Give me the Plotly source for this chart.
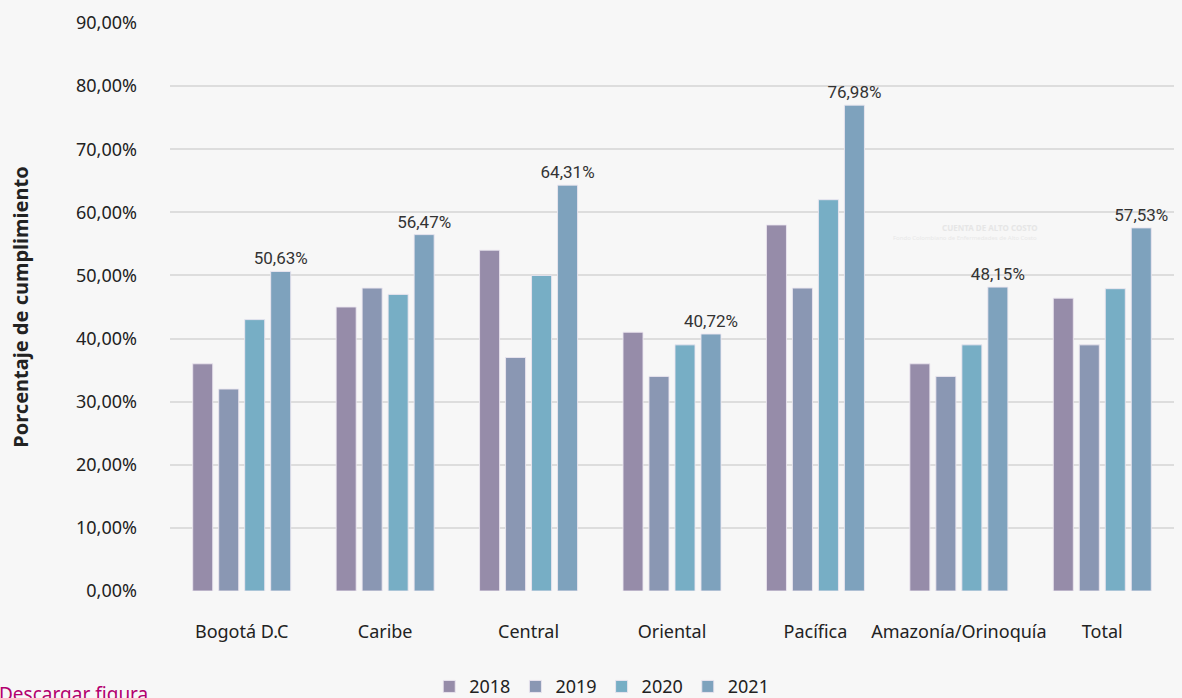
import plotly.graph_objects as go

categories = ["Bogotá D.C", "Caribe", "Central", "Oriental", "Pacífica", "Amazonía/Orinoquía", "Total"]
v2018 = [36.0, 45.0, 54.0, 41.0, 58.0, 36.0, 46.4]
v2019 = [32.0, 48.0, 37.0, 34.0, 48.0, 34.0, 39.0]
v2020 = [43.0, 47.0, 50.0, 39.0, 62.0, 39.0, 47.9]
v2021 = [50.63, 56.47, 64.31, 40.72, 76.98, 48.15, 57.53]
years = ["2018", "2019", "2020", "2021"]
colors = ["#968ca9", "#8a97b3", "#77aec5", "#7ea2bd"]

FONT = "Noto Sans"
LABEL_FONT = "Liberation Sans Narrow, Roboto, sans-serif"

fig = go.Figure()
for yr, vals, col in zip(years, [v2018, v2019, v2020, v2021], colors):
    show_text = yr == "2021"
    fig.add_trace(go.Bar(
        x=categories, y=vals, name=yr,
        marker=dict(color=col, line=dict(color="rgba(235,230,240,0.9)", width=1)),
        text=[f"{v:.2f}".replace(".", ",") + "%" for v in vals] if show_text else None,
        textposition="outside" if show_text else None,
        constraintext="none",
        textfont=dict(size=17, color="#333333", family=LABEL_FONT),
        cliponaxis=False,
        hovertemplate="%{x}: %{y:.2f}%<extra>" + yr + "</extra>",
    ))

fig.update_layout(
    width=1182, height=698,
    paper_bgcolor="#f7f7f7", plot_bgcolor="#f7f7f7",
    margin=dict(l=170, r=8, t=23, b=107, autoexpand=False),
    barmode="group", bargap=0.275, bargroupgap=0.23,
    separators=",.",
    font=dict(family=FONT, color="#333333", size=15),
    legend=dict(orientation="h", x=0.43, xanchor="center", y=-0.136, yanchor="top",
                font=dict(size=18, color="#222222"), itemwidth=30, traceorder="normal"),
    xaxis=dict(showgrid=False, showline=False, ticks="", tickfont=dict(size=18, color="#222222"),
               ticklabelstandoff=28),
    yaxis=dict(range=[0, 90], dtick=10, tickformat=".2f", ticksuffix="%",
               gridcolor="#dddddd", gridwidth=2, zeroline=False,
               tickfont=dict(size=18, color="#222222"), ticklabelstandoff=32,
               title=dict(text="<b>Porcentaje de cumplimiento</b>", font=dict(size=20, color="#222222"),
                          standoff=42)),
)

fig.add_annotation(text="Descargar figura", xref="paper", yref="paper", x=-0.172, y=-0.155,
                   xanchor="left", yanchor="top", showarrow=False,
                   font=dict(size=19, color="#b3006f", family=FONT))
fig.add_annotation(text="<b>CUENTA DE ALTO COSTO</b>", xref="paper", yref="paper", x=0.866, y=0.64,
                   showarrow=False, font=dict(size=8, color="#e6e6e6"))
fig.add_annotation(text="Fondo Colombiano de Enfermedades de Alto Costo", xref="paper", yref="paper",
                   x=0.866, y=0.622, showarrow=False, font=dict(size=6, color="#e8e8e8"))

fig.write_html("out.html", config={"displayModeBar": False},
               post_script="document.body.style.margin='0';document.body.style.background='#f7f7f7';")
